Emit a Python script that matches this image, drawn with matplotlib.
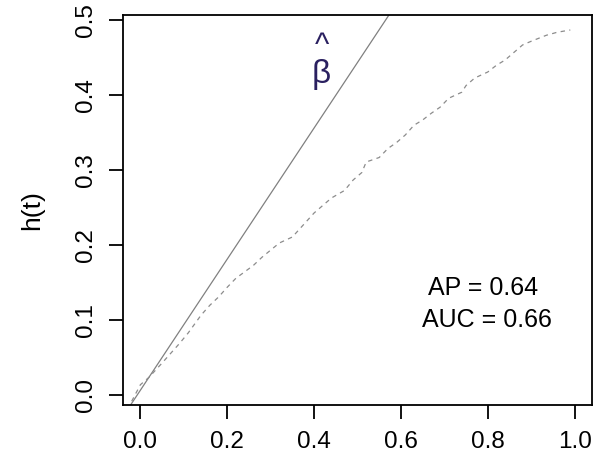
import matplotlib
matplotlib.use("Agg")
import matplotlib.pyplot as plt

plt.rcParams.update({"font.family": ["Liberation Sans", "DejaVu Sans"]})

# estimated h(t) curve (dashed)
t_vals = [-0.02, 0.00, 0.02, 0.05, 0.07, 0.09, 0.11, 0.14, 0.16, 0.18, 0.20, 0.22,
          0.26, 0.28, 0.32, 0.35, 0.40, 0.44, 0.47, 0.49, 0.51, 0.52, 0.55, 0.57,
          0.59, 0.61, 0.63, 0.65, 0.67, 0.69, 0.71, 0.74, 0.75, 0.77, 0.80, 0.82,
          0.84, 0.86, 0.88, 0.90, 0.935, 0.96, 0.99]
h_vals = [-0.008, 0.014, 0.024, 0.043, 0.056, 0.069, 0.083, 0.107, 0.120, 0.131, 0.144, 0.156,
          0.173, 0.184, 0.203, 0.211, 0.243, 0.263, 0.273, 0.287, 0.297, 0.311, 0.317, 0.329,
          0.337, 0.347, 0.360, 0.367, 0.376, 0.384, 0.396, 0.404, 0.413, 0.423, 0.431, 0.440,
          0.447, 0.457, 0.467, 0.472, 0.480, 0.484, 0.487]
# beta-hat reference line
beta_slope = 0.874
beta_icpt = 0.0067
ap_val = 0.64
auc_val = 0.66
xticks = [0.0, 0.2, 0.4, 0.6, 0.8, 1.0]
yticks = [0.0, 0.1, 0.2, 0.3, 0.4, 0.5]

fig = plt.figure(figsize=(5.96, 4.57), dpi=100)
ax = fig.add_axes([0.2064, 0.1138, 0.7869, 0.8534])

ax.axline((0, beta_icpt), slope=beta_slope, color="#808080", lw=0.9)
ax.plot(t_vals, h_vals, color="#8c8c8c", lw=0.9, linestyle=(0, (3.5, 3.5)))

# beta-hat label: upright beta with a caret above
ax.text(0.417, 0.427, "\u03b2", ha="center", va="center", fontsize=24, color="#2a2060")
ax.text(0.419, 0.466, "^", ha="center", va="center", fontsize=22, color="#2a2060")
ax.text(0.79, 0.143, f"AP = {ap_val:.2f}", ha="center", va="center", fontsize=18)
ax.text(0.797, 0.100, f"AUC = {auc_val:.2f}", ha="center", va="center", fontsize=18)

ax.set_xlim(-0.04, 1.04)
ax.set_ylim(-0.013, 0.507)
ax.set_xticks(xticks)
ax.set_xticklabels([f"{v:.1f}" for v in xticks])
ax.set_yticks(yticks)
ax.set_yticklabels([f"{v:.1f}" for v in yticks], rotation=90, va="center")
ax.tick_params(length=10, width=1.3, labelsize=17.5, pad=9, color="black")
for s in ax.spines.values():
    s.set_linewidth(1.3)
ax.set_ylabel("h(t)", fontsize=19, labelpad=22)

fig.savefig("out.png", dpi=100)
